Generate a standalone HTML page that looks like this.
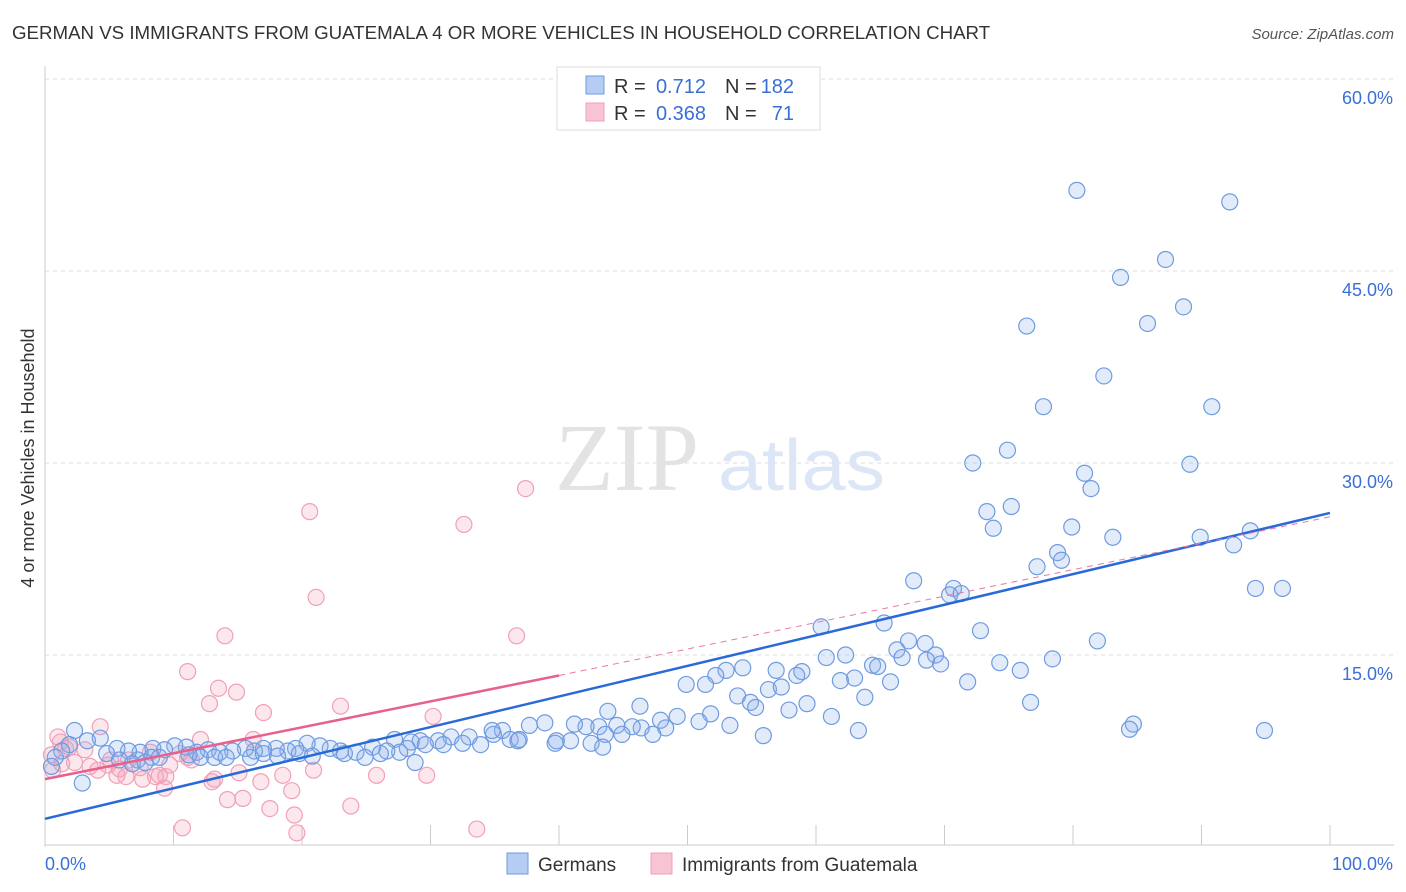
<!DOCTYPE html>
<html><head><meta charset="utf-8"><style>
body{margin:0;background:#fff;font-family:"Liberation Sans",sans-serif;}
svg{display:block}
</style></head><body>
<svg id="chart" width="1406" height="892" xmlns="http://www.w3.org/2000/svg">
<text x="12" y="39" font-size="18.7" fill="#333">GERMAN VS IMMIGRANTS FROM GUATEMALA 4 OR MORE VEHICLES IN HOUSEHOLD CORRELATION CHART</text>
<text x="1394" y="39" font-size="15" fill="#555" font-style="italic" text-anchor="end">Source: ZipAtlas.com</text>
<text x="34" y="458" font-size="18" fill="#333" text-anchor="middle" transform="rotate(-90 34 458)">4 or more Vehicles in Household</text>
<g id="grid"></g>
<g><text x="555" y="490" font-size="96" font-family="Liberation Serif" fill="#e3e3e3">ZIP</text><text x="718" y="490" font-size="72" fill="#dce6f6" textLength="167" lengthAdjust="spacingAndGlyphs">atlas</text></g>
<g id="pts"></g>
<g id="lines"></g>
<g>
<rect x="557" y="67" width="263" height="63" fill="#fff" stroke="#ddd"/>
<rect x="586" y="76" width="18" height="18" fill="#b5cdf3" stroke="#6f9be0"/>
<rect x="586" y="103" width="18" height="18" fill="#f8c3d3" stroke="#f0a0b8"/>
<g font-size="20" fill="#333">
<text x="614" y="93">R =</text><text x="706" y="93" text-anchor="end" fill="#3a6fd8">0.712</text>
<text x="725" y="93">N =</text><text x="794" y="93" text-anchor="end" fill="#3a6fd8">182</text>
<text x="614" y="120">R =</text><text x="706" y="120" text-anchor="end" fill="#3a6fd8">0.368</text>
<text x="725" y="120">N =</text><text x="794" y="120" text-anchor="end" fill="#3a6fd8">71</text>
</g>
</g>
<g>
<rect x="507" y="853" width="21" height="21" fill="#b5cdf3" stroke="#6f9be0"/>
<text x="538" y="871" font-size="19" fill="#333">Germans</text>
<rect x="651" y="853" width="21" height="21" fill="#f8c3d3" stroke="#f0a0b8"/>
<text x="682" y="871" font-size="19" fill="#333">Immigrants from Guatemala</text>
</g>
</svg>
<script>
const yTicks=[15,30,45,60];
const yTickLabels=["15.0%","30.0%","45.0%","60.0%"];
const xTickLabels=["0.0%","100.0%"];
const blueX=[80.3,92.2,87.2,83.7,88.6,85.8,76.4,82.4,77.7,90.8,74.9,72.2,89.1,80.9,81.4,73.3,75.2,73.8,79.9,83.1,89.9,93.8,92.5,78.8,79.1,77.2,67.6,70.7,70.4,71.3,94.2,96.3,60.4,65.3,72.8,81.9,67.2,68.5,66.3,69.3,66.7,68.6,69.7,62.3,60.8,74.3,78.4,75.9,64.4,64.8,71.8,65.8,63.0,61.9,58.9,56.9,58.5,54.3,53.0,52.2,49.9,51.4,56.3,57.3,53.9,63.8,59.3,54.9,55.3,57.9,46.3,43.8,51.8,49.2,61.2,47.9,50.9,76.7,84.7,84.4,94.9,63.3,53.3,48.3,46.4,45.7,44.5,43.1,42.1,41.2,38.9,37.7,35.6,34.9,36.2,36.8,34.8,33.0,31.6,30.6,29.2,28.5,27.2,39.8,40.9,42.5,43.6,44.9,47.3,55.9,43.4,39.7,36.9,33.9,32.5,31.0,29.6,28.2,27.6,26.6,25.5,24.2,23.0,22.2,21.4,20.4,19.5,18.9,18.0,17.0,16.3,15.6,14.6,13.6,12.7,11.8,11.0,10.1,9.3,8.4,7.4,6.5,5.6,4.3,3.3,2.3,1.9,1.3,0.8,2.9,4.8,7.2,8.3,8.9,11.2,12.1,13.2,14.1,16.0,17.0,18.1,19.8,20.8,23.3,24.9,26.1,28.8,5.8,6.8,7.8,0.5];
const blueY=[51.3,50.4,45.9,44.5,42.2,40.9,40.7,36.8,34.4,34.4,31.0,30.0,29.9,29.2,28.0,26.2,26.6,24.9,25.0,24.2,24.2,24.7,23.6,23.0,22.4,21.9,20.8,20.2,19.7,19.8,20.2,20.2,17.2,17.5,16.9,16.1,16.1,15.9,15.4,15.0,14.8,14.6,14.3,15.0,14.8,14.4,14.7,13.8,14.2,14.1,12.9,12.9,13.2,13.0,13.7,13.8,13.4,14.0,13.8,13.4,12.7,12.7,12.3,12.5,11.8,11.7,11.2,11.3,10.9,10.7,11.0,10.6,10.4,10.2,10.2,9.9,9.8,11.3,9.6,9.2,9.1,9.1,9.5,9.3,9.3,9.4,9.5,9.4,9.4,9.6,9.7,9.5,9.1,8.8,8.4,8.3,9.1,8.6,8.6,8.3,8.3,8.2,8.4,8.3,8.3,8.1,8.8,8.8,8.8,8.7,7.8,8.1,8.4,8.0,8.1,8.0,8.0,7.7,7.4,7.5,7.8,7.4,7.5,7.7,7.9,8.1,7.7,7.5,7.7,7.7,7.5,7.7,7.5,7.4,7.6,7.4,7.8,7.9,7.6,7.7,7.4,7.5,7.7,8.5,8.3,9.1,8.0,7.5,7.0,5.0,7.3,6.8,7.0,7.0,7.2,7.0,7.0,7.0,7.0,7.3,7.1,7.3,7.1,7.3,7.0,7.3,6.6,6.8,6.5,6.6,6.3];
const pinkX=[37.4,20.6,32.6,21.1,14.0,36.7,11.1,13.5,14.9,12.8,23.0,17.0,30.2,4.3,1.0,1.9,12.1,16.2,10.5,8.2,6.5,4.9,3.5,2.3,0.6,1.6,3.1,5.8,7.4,9.7,11.1,11.4,8.9,9.4,6.3,5.6,7.6,8.6,4.1,15.1,18.5,20.9,25.8,29.7,13.2,13.0,9.3,16.8,19.2,15.4,14.2,23.8,17.5,19.4,10.7,19.6,33.6,1.2,0.5,1.3,5.1];
const pinkY=[28.0,26.2,25.2,19.5,16.5,16.5,13.7,12.4,12.1,11.2,11.0,10.5,10.2,9.4,8.6,7.8,8.4,8.4,7.3,7.4,6.8,6.4,6.3,6.6,6.0,7.7,7.6,6.1,6.2,6.4,7.0,6.8,5.6,5.5,5.5,5.6,5.3,5.5,6.0,5.8,5.6,6.0,5.6,5.6,5.3,5.1,4.6,5.1,4.4,3.8,3.7,3.2,3.0,2.5,1.5,1.1,1.4,8.2,7.2,6.5,6.8];
const blueTrend=[[0,2.2],[100,26.1]];
const pinkTrend=[[0,5.3],[40,13.4]];
const pinkDash=[[40,13.4],[100,25.8]];

const X0=45,X1=1330,Y0=847,PY=12.8;
const sx=v=>X0+v*(X1-X0)/100;
const sy=v=>Y0-v*PY;
const NS="http://www.w3.org/2000/svg";
function mk(tag,attrs,parent){const e=document.createElementNS(NS,tag);for(const k in attrs)e.setAttribute(k,attrs[k]);parent.appendChild(e);return e;}
const grid=document.getElementById('grid');
mk('line',{x1:X0,y1:66,x2:X0,y2:Y0,stroke:'#ccc'},grid);
mk('line',{x1:X0,y1:Y0-2,x2:1394,y2:Y0-2,stroke:'#ccc'},grid);
yTicks.forEach((t,i)=>{
 const l=mk('line',{x1:X0,y1:sy(t),x2:1394,y2:sy(t),stroke:'#ddd','stroke-dasharray':'4,4'},grid);
 
 
 const tx=mk('text',{x:1393,y:sy(t)+25,'font-size':18,fill:'#3a6fd8','text-anchor':'end'},grid);
 tx.textContent=yTickLabels[i];
 
 
});
for(let i=1;i<=10;i++){mk('line',{x1:sx(i*10),y1:825,x2:sx(i*10),y2:Y0-2,stroke:'#ccc'},grid);}
const xl0=mk('text',{x:45,y:870,'font-size':18,fill:'#3a6fd8'},grid);xl0.textContent=xTickLabels[0];


const xl1=mk('text',{x:1393,y:870,'font-size':18,fill:'#3a6fd8','text-anchor':'end'},grid);xl1.textContent=xTickLabels[1];


const pts=document.getElementById('pts');
pinkX.forEach((x,i)=>{
 const c=mk('circle',{cx:sx(x),cy:sy(pinkY[i]),r:8,fill:'rgba(244,160,185,0.25)',stroke:'#f0a0b8','stroke-width':1.2},pts);
 
 
});
blueX.forEach((x,i)=>{
 const c=mk('circle',{cx:sx(x),cy:sy(blueY[i]),r:8,fill:'rgba(140,175,235,0.25)',stroke:'#6f9be0','stroke-width':1.2},pts);
 
 
});
const lines=document.getElementById('lines');
const bl=mk('line',{x1:sx(blueTrend[0][0]),y1:sy(blueTrend[0][1]),x2:sx(blueTrend[1][0]),y2:sy(blueTrend[1][1]),stroke:'#2a6ad8','stroke-width':2.5},lines);


const pd=mk('line',{x1:sx(pinkDash[0][0]),y1:sy(pinkDash[0][1]),x2:sx(pinkDash[1][0]),y2:sy(pinkDash[1][1]),stroke:'#e87aa0','stroke-width':1,'stroke-dasharray':'6,5'},lines);


const pl=mk('line',{x1:sx(pinkTrend[0][0]),y1:sy(pinkTrend[0][1]),x2:sx(pinkTrend[1][0]),y2:sy(pinkTrend[1][1]),stroke:'#e8608e','stroke-width':2.5},lines);


</script>
</body></html>
